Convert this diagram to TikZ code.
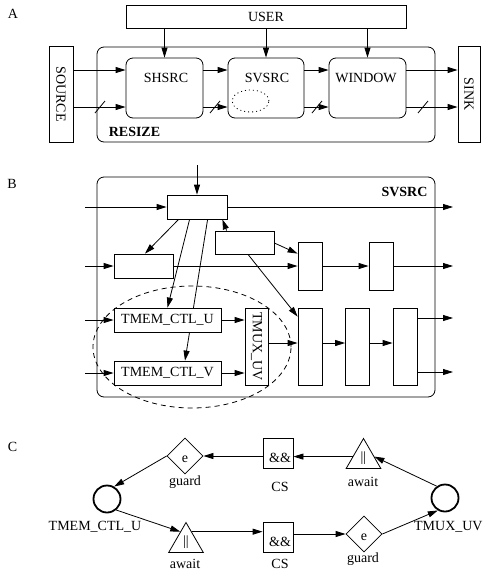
\documentclass[tikz,border=0pt]{standalone}
\usepackage{fontspec}
\setmainfont{Liberation Serif}
\usetikzlibrary{arrows.meta,shapes.geometric,calc,backgrounds}
\begin{document}
\begin{tikzpicture}[x=1pt,y=-1pt,
  font=\fontsize{14}{16}\selectfont, line width=0.8pt,
  arr/.style={-{Triangle[length=10pt,width=6pt]}, line width=0.8pt},
  box/.style={draw, inner sep=0pt, fill=white},
  rbox/.style={draw, rounded corners=7pt, inner sep=0pt},
  bold/.style={font=\fontsize{14}{16}\selectfont\bfseries},
  circ/.style={circle, draw, line width=1.8pt, minimum size=27pt, inner sep=0pt},
  dmd/.style={diamond, draw, aspect=1, minimum width=36pt, minimum height=36pt, inner sep=0pt},
  sqr/.style={draw, minimum size=30pt, inner sep=0pt},
  tri/.style={regular polygon, regular polygon sides=3, draw, minimum size=40pt, inner sep=0pt},
  slash/.style={line width=0.8pt}]
\useasboundingbox (0,0) rectangle (484,574);

% ---------------- Panel A ----------------
\node (lA) at (13,14) {A};
\node[box, minimum width=280pt, minimum height=23pt] (user) at (266,16.5) {USER};
\node[rbox, minimum width=338pt, minimum height=95pt] (resize) at (266,94.5) {};
\node[bold] (resizelab) at (134.5,132) {RESIZE};
\node[box, minimum width=24pt, minimum height=96pt, label={[rotate=-90]center:SOURCE}] (source) at (61,94) {};
\node[box, minimum width=22pt, minimum height=96pt, label={[rotate=-90]center:SINK}] (sink) at (469,94) {};
\node[rbox, minimum width=77pt, minimum height=60pt] (shsrc) at (164.5,88) {};
\node[rbox, minimum width=76pt, minimum height=60pt] (svsrc) at (266,88) {};
\node[rbox, minimum width=77pt, minimum height=60pt] (window) at (367.5,88) {};
\node (shsrclab) at (166,77.5) {SHSRC};
\node (svsrclab) at (267,77.5) {SVSRC};
\node (windowlab) at (366,77.5) {WINDOW};
\draw[dash pattern=on 1pt off 3pt] (250.5,101) ellipse [x radius=18.5pt, y radius=11pt];

\coordinate (ra) at (0,70);
\coordinate (rb) at (0,107);
\draw[arr] (source.east |- ra) -- (shsrc.west |- ra);
\draw[arr] (source.east |- rb) -- (shsrc.west |- rb);
\draw[arr] (shsrc.east |- ra) -- (svsrc.west |- ra);
\draw[arr] (shsrc.east |- rb) -- (svsrc.west |- rb);
\draw[arr] (svsrc.east |- ra) -- (window.west |- ra);
\draw[arr] (svsrc.east |- rb) -- (window.west |- rb);
\draw[arr] (window.east |- ra) -- (sink.west |- ra);
\draw[arr] (window.east |- rb) -- (sink.west |- rb);
\foreach \x in {100,215,317,423} \draw[slash] (\x-5,113) -- (\x+5,101);
\draw[arr] (user.south -| shsrc.north) -- (shsrc.north);
\draw[arr] (user.south -| svsrc.north) -- (svsrc.north);
\draw[arr] (user.south -| window.north) -- (window.north);

% ---------------- Panel B ----------------
\node (lB) at (12,184) {B};
\node[rbox, minimum width=338pt, minimum height=220pt] (svbig) at (266,287) {};
\node[bold] (svbiglab) at (404.5,191.5) {SVSRC};
\node[box, minimum width=60pt, minimum height=24pt] (b1) at (197,207) {};
\node[box, minimum width=59pt, minimum height=23pt] (b2) at (244.5,242.5) {};
\node[box, minimum width=59pt, minimum height=24pt] (b3) at (143.5,266) {};
\node[box, minimum width=24pt, minimum height=48pt] (b4) at (310,266) {};
\node[box, minimum width=24pt, minimum height=48pt] (b5) at (381,266) {};
\node[box, minimum width=107pt, minimum height=24pt] (tu) at (167.5,320) {TMEM\_CTL\_U};
\node[box, minimum width=107pt, minimum height=24pt] (tv) at (167.5,373) {TMEM\_CTL\_V};
\node[box, minimum width=23pt, minimum height=77pt, label={[rotate=-90]center:TMUX\_UV}] (tmux) at (256.5,346.5) {};
\node[box, minimum width=24pt, minimum height=77pt] (b6) at (310,346.5) {};
\node[box, minimum width=24pt, minimum height=77pt] (b7) at (357.5,346.5) {};
\node[box, minimum width=24pt, minimum height=77pt] (b8) at (405,346.5) {};

\coordinate (tin) at (197,165);
\draw[arr] (tin) -- (b1.north);
\coordinate (inA) at (85,207);  \coordinate (outA) at (453,207);
\coordinate (inB) at (85,266);  \coordinate (outB) at (453,266);
\coordinate (inC) at (85,320);  \coordinate (inD) at (85,373);
\coordinate (outC) at (453,318); \coordinate (outD) at (453,372);
\coordinate (rm) at (0,343);
\draw[arr] (inA) -- (b1.west |- inA);
\draw[arr] (b1.east |- outA) -- (outA);
\draw[arr] (inB) -- (b3.west |- inB);
\draw[arr] (b3.east |- inB) -- (b4.west |- inB);
\draw[arr] (b4.east |- inB) -- (b5.west |- inB);
\draw[arr] (b5.east |- inB) -- (outB);
\draw[arr] (inC) -- (tu.west |- inC);
\draw[arr] (inD) -- (tv.west |- inD);
\draw[arr] (tu.east) -- (tmux.west |- tu.east);
\draw[arr] (tv.east) -- (tmux.west |- tv.east);
\draw[arr] (tmux.east |- rm) -- (b6.west |- rm);
\draw[arr] (b6.east |- rm) -- (b7.west |- rm);
\draw[arr] (b7.east |- rm) -- (b8.west |- rm);
\draw[arr] (b8.east |- outC) -- (outC);
\draw[arr] (b8.east |- outD) -- (outD);
\draw[arr] ($(b1.south west)+(12,0)$) -- ($(b3.north)+(1.5,0)$);
\draw[arr] ($(b1.south west)+(23,0)$) -- (tu.north);
\begin{scope}[on background layer]
\draw[arr, line width=0.8pt] ($(b1.south west)+(41,0)$) -- ($(tv.north)+(17.5,0)$);
\end{scope}
\draw[arr] ($(b2.north west)+(12,0)$) -- ($(b1.south east)+(-5,0)$);
\draw[arr] ($(b2.east)+(0,0.5)$) -- ($(b4.north west)+(0,12)$);
\draw[arr] ($(b2.south)+(3.5,0)$) -- ($(b6.north west)+(0,9)$);
\draw[dash pattern=on 5pt off 4pt] (192,347) ellipse [x radius=99pt, y radius=61pt];

% ---------------- Panel C ----------------
\node (lC) at (12.5,447) {C};
\node[circ] (lc) at (107,499) {};
\node[circ] (rc) at (445,498) {};
\node (lcl) at (95,527) {TMEM\_CTL\_U};
\node[anchor=east, inner sep=0pt] (rcl) at (483,527) {TMUX\_UV};
\node[dmd, label={[yshift=-3pt]center:e}] (gd1) at (185,456) {};
\node[sqr, label={[xshift=2pt,yshift=-5pt]center:\&\&}] (cs1) at (278,453) {};
\node[tri, label={center:||}] (aw1) at (363.5,458.5) {};
\node[tri, label={center:||}] (aw2) at (186,542.5) {};
\node[sqr, label={[xshift=2pt,yshift=-5pt]center:\&\&}] (cs2) at (278,537) {};
\node[dmd, label={[yshift=-3pt]center:e}] (gd2) at (364,534) {};
\node (g1) at (185,482) {guard};
\node (a1) at (363,482) {await};
\node (c1) at (280,487) {CS};
\node (a2) at (185,564) {await};
\node (c2) at (280,564) {CS};
\node (g2) at (363,559) {guard};

\draw[arr] (rc.125) -- (aw1.10);
\draw[arr] (aw1.170) -- (aw1.170 -| cs1.east);
\draw[arr] (cs1.west |- gd1) -- (gd1.east);
\draw[arr] (gd1.west) -- (lc.60);
\draw[arr] (lc.-50) -- (aw2.118);
\draw[arr] (aw2.62) -- (aw2.62 -| cs2.west);
\draw[arr] (cs2.east |- gd2) -- (gd2.west);
\draw[arr] (gd2.east) -- (rc.-120);
\end{tikzpicture}
\end{document}
